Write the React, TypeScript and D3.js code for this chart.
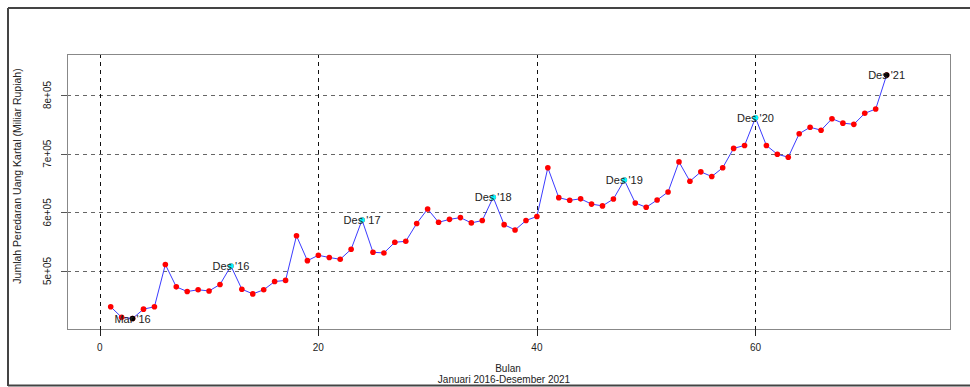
import React from "react";
import * as d3 from "d3";

const months: number[] = Array.from({ length: 72 }, (_, i) => i + 1);
const values: number[] = [
  439000, 421000, 419000, 435000, 439000, 511000, 473000, 465000, 468000, 466000, 477000, 508500,
  469000, 461000, 468000, 482000, 484000, 560000, 517600, 526800, 523000, 520000, 537000, 587000,
  532000, 530700, 549000, 550600, 581000, 605700, 583000, 588000, 591000, 582000, 586000, 625600,
  579000, 570000, 586000, 593000, 676000, 625000, 620500, 623000, 614000, 611000, 622700, 655000,
  616000, 608600, 621000, 634700, 686000, 653000, 669000, 661000, 676000, 709000, 714000, 761000,
  714000, 699000, 694000, 734000, 745000, 740000, 759600, 752000, 750000, 768800, 776000, 834000,
];
const labelIdx: number[] = [3, 12, 24, 36, 48, 60, 72];
const labelText: string[] = ["Mar '16", "Des '16", "Des '17", "Des '18", "Des '19", "Des '20", "Des '21"];
const labelColor: string[] = ["black", "cyan", "cyan", "cyan", "cyan", "cyan", "black"];
const xTicks: number[] = [0, 20, 40, 60];
const yTicks: number[] = [500000, 600000, 700000, 800000];
const yTickLabels: string[] = ["5e+05", "6e+05", "7e+05", "8e+05"];

const W = 970, H = 387;
const L = 67, R = 950, T = 54, B = 329;

export default function App() {
  const x = d3.scaleLinear().domain([-3, 77.8]).range([L, R]);
  const y = d3.scaleLinear().domain([401140, 869870]).range([B, T]);
  const line = d3.line<number>().x((_, i) => x(months[i])).y((d) => y(d));
  const font = "'Liberation Sans', Arial, sans-serif";
  return (
    <svg width={W} height={H} style={{ position: "absolute", left: 0, top: 0, background: "white" }} fontFamily={font}>
      <rect x={0} y={0} width={W} height={H} fill="white" />
      {/* outer frame */}
      <line x1={8} y1={8} x2={W} y2={8} stroke="#444" strokeWidth={2} />
      <line x1={8} y1={8} x2={8} y2={386} stroke="#444" strokeWidth={2} />
      <line x1={8} y1={385.5} x2={W} y2={385.5} stroke="#444" strokeWidth={2} />
      {/* grid */}
      {yTicks.map((t) => (
        <line key={"h" + t} x1={L} x2={R} y1={Math.round(y(t)) + 0.5} y2={Math.round(y(t)) + 0.5} stroke="#666" strokeDasharray="4,4" />
      ))}
      {xTicks.map((t) => (
        <line key={"v" + t} x1={Math.round(x(t)) + 0.5} x2={Math.round(x(t)) + 0.5} y1={T} y2={B} stroke="#111" strokeDasharray="4,4" />
      ))}
      {/* box */}
      <rect x={L + 0.5} y={T + 0.5} width={R - L} height={B - T} fill="none" stroke="#888" />
      {/* ticks */}
      {xTicks.map((t) => (
        <g key={"xt" + t}>
          <line x1={Math.round(x(t)) + 0.5} x2={Math.round(x(t)) + 0.5} y1={B} y2={B + 7} stroke="#222" />
          <text x={x(t)} y={351} fontSize={10} textAnchor="middle" fill="#222">{t}</text>
        </g>
      ))}
      {yTicks.map((t, i) => (
        <g key={"yt" + t}>
          <line x1={L - 6} x2={L} y1={Math.round(y(t)) + 0.5} y2={Math.round(y(t)) + 0.5} stroke="#555" />
          <text transform={`translate(51,${y(t)}) rotate(-90)`} fontSize={10} textAnchor="middle" fill="#222">{yTickLabels[i]}</text>
        </g>
      ))}
      {/* axis titles */}
      <text transform={`translate(21,176) rotate(-90)`} fontSize={10.5} textAnchor="middle" fill="#222">
        Jumlah Peredaran Uang Kartal (Miliar Rupiah)
      </text>
      <text x={508} y={372} fontSize={10} textAnchor="middle" fill="#222">Bulan</text>
      <text x={504} y={383} fontSize={10} textAnchor="middle" fill="#222">Januari 2016-Desember 2021</text>
      {/* series */}
      <path d={line(values) || ""} fill="none" stroke="#3b3bff" strokeWidth={1} />
      {values.map((v, i) => (
        <circle key={"p" + i} cx={x(months[i])} cy={y(v)} r={2.8} fill="red" />
      ))}
      {labelIdx.map((m, k) => (
        <g key={"l" + m}>
          <circle cx={x(m)} cy={y(values[m - 1])} r={2.8} fill={labelColor[k]} />
          <text x={x(m)} y={y(values[m - 1]) + 4} fontSize={11} textAnchor="middle" fill="#222">{labelText[k]}</text>
        </g>
      ))}
    </svg>
  );
}
